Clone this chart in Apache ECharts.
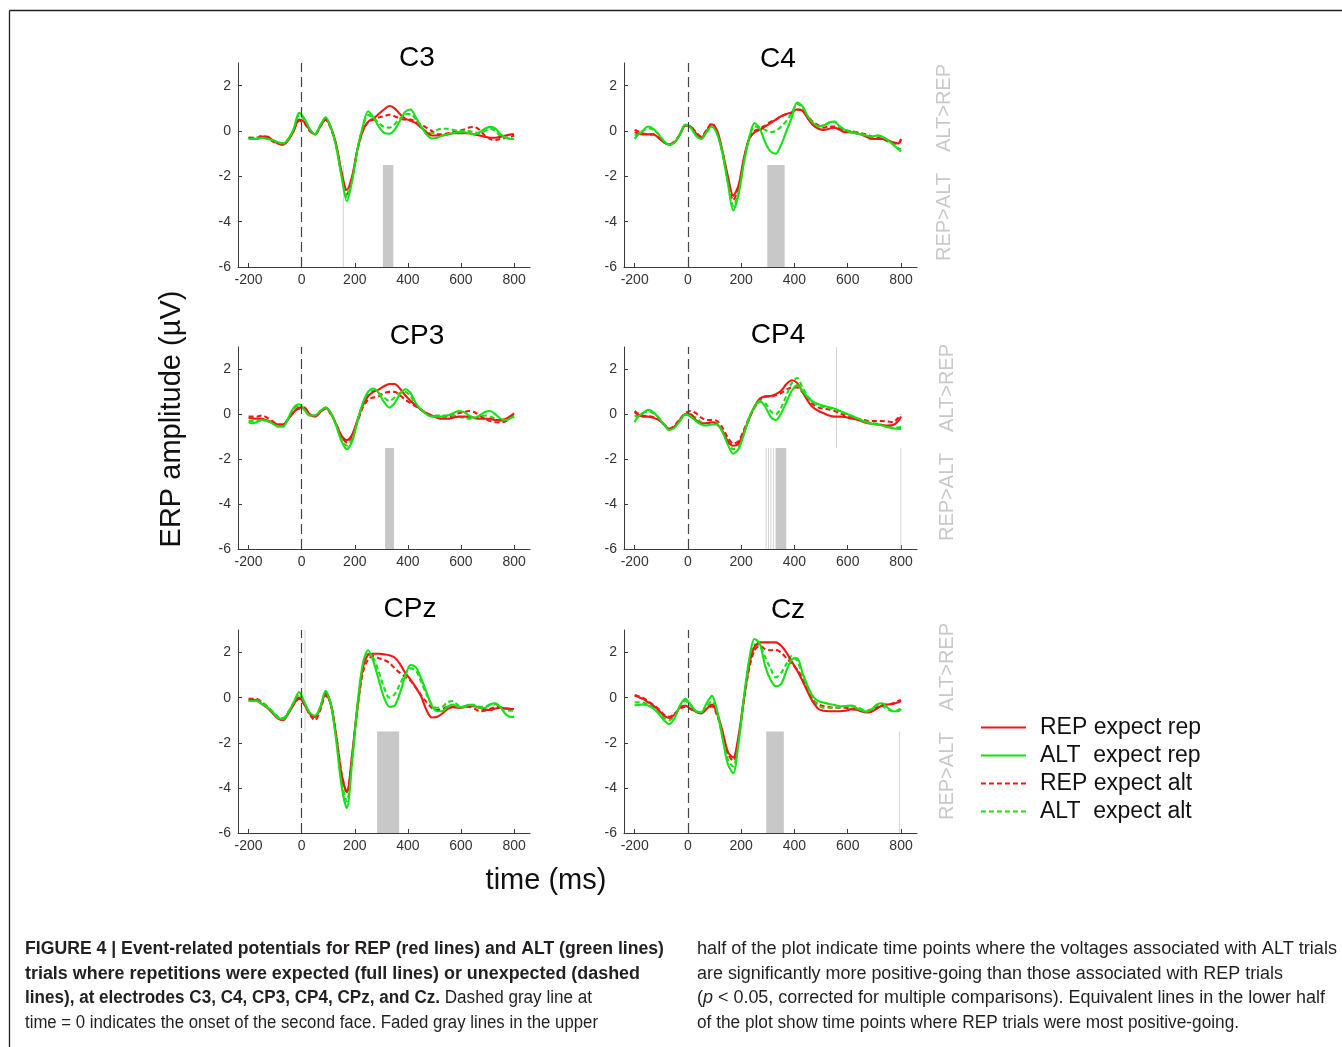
<!DOCTYPE html>
<html>
<head>
<meta charset="utf-8">
<script src="https://cdn.jsdelivr.net/npm/echarts@6/dist/echarts.min.js"></script>
<style>
  html, body { margin: 0; padding: 0; background: #ffffff; }
  #chart { width: 1342px; height: 1047px; }
</style>
</head>
<body>
<div id="chart"></div>
<script>
// Sample times (ms) shared by every ERP curve
const TIMES = [-200,
  -190,-170,-150,-130,-110,-90,-70,-50,-30,-10,
  10,30,50,70,90,110,130,150,170,190,
  210,230,250,270,290,310,330,350,370,390,
  410,430,450,470,490,510,530,550,570,590,
  610,630,650,670,690,710,730,750,770,790,
  800];

// Tick positions
const X_TICKS = [-200, 0, 200, 400, 600, 800];
const Y_TICKS = [-6, -4, -2, 0, 2];

// Electrode C3 (µV)
const C3_REP_EXP_REP = [-0.3,
  -0.32,-0.35,-0.25,-0.25,-0.4,-0.55,-0.6,-0.4,0.0,0.5,
  0.4,0.05,-0.15,0.2,0.5,0.15,-0.6,-1.8,-2.6,-2.0,
  -0.8,0.0,0.4,0.55,0.75,0.95,1.1,1.0,0.75,0.55,
  0.45,0.35,0.15,-0.05,-0.2,-0.2,-0.2,-0.15,-0.1,-0.1,
  -0.1,-0.1,-0.15,-0.2,-0.25,-0.3,-0.3,-0.25,-0.2,-0.15,
  -0.15];
const C3_ALT_EXP_REP = [-0.35,
  -0.35,-0.35,-0.3,-0.35,-0.4,-0.5,-0.55,-0.35,0.1,0.8,
  0.55,0.1,-0.15,0.25,0.6,0.15,-0.7,-2.0,-3.1,-2.2,
  -0.8,0.2,0.87,0.6,0.2,-0.08,-0.12,0.05,0.45,0.85,
  0.95,0.6,0.2,-0.15,-0.33,-0.3,-0.2,-0.15,-0.1,-0.05,
  -0.05,-0.1,-0.15,-0.05,0.1,0.18,0.1,-0.15,-0.3,-0.35,
  -0.35];
const C3_REP_EXP_ALT = [-0.3,
  -0.3,-0.3,-0.2,-0.3,-0.45,-0.55,-0.6,-0.35,0.05,0.45,
  0.35,0.0,-0.15,0.2,0.5,0.1,-0.65,-1.9,-2.8,-2.1,
  -0.85,0.0,0.4,0.5,0.6,0.65,0.72,0.65,0.55,0.5,
  0.5,0.4,0.3,0.15,0.0,-0.15,-0.15,-0.1,-0.05,0.0,
  0.05,0.15,0.18,0.05,-0.2,-0.35,-0.4,-0.35,-0.3,-0.25,
  -0.2];
const C3_ALT_EXP_ALT = [-0.3,
  -0.3,-0.3,-0.28,-0.3,-0.4,-0.5,-0.55,-0.35,0.05,0.7,
  0.5,0.05,-0.15,0.25,0.55,0.15,-0.7,-1.95,-2.9,-2.1,
  -0.8,0.15,0.7,0.6,0.35,0.18,0.15,0.3,0.55,0.75,
  0.75,0.5,0.2,-0.05,-0.1,0.05,0.1,0.1,0.05,0.0,
  0.0,0.0,-0.05,-0.1,0.0,0.1,0.0,-0.25,-0.3,-0.35,
  -0.35];

// Electrode C4 (µV)
const C4_REP_EXP_REP = [-0.05,
  -0.1,-0.15,-0.15,-0.15,-0.3,-0.5,-0.6,-0.5,-0.15,0.25,
  0.2,-0.1,-0.3,0.0,0.3,0.0,-0.9,-2.0,-2.85,-2.4,
  -1.2,-0.35,-0.05,0.05,0.2,0.35,0.5,0.65,0.75,0.82,
  0.95,0.9,0.55,0.25,0.1,0.05,0.1,0.15,0.05,-0.05,
  -0.05,-0.1,-0.15,-0.25,-0.35,-0.35,-0.35,-0.4,-0.5,-0.55,
  -0.4];
const C4_ALT_EXP_REP = [-0.35,
  -0.2,0.0,0.2,0.1,-0.15,-0.45,-0.62,-0.5,-0.15,0.28,
  0.15,-0.2,-0.35,-0.05,0.2,-0.15,-1.0,-2.3,-3.5,-2.8,
  -1.4,-0.3,0.35,0.1,-0.5,-0.9,-1.0,-0.6,0.0,0.6,
  1.25,1.1,0.65,0.35,0.2,0.25,0.38,0.42,0.2,0.05,
  -0.05,-0.1,-0.15,-0.2,-0.25,-0.2,-0.25,-0.4,-0.6,-0.8,
  -0.9];
const C4_REP_EXP_ALT = [0.05,
  0.0,-0.1,-0.15,-0.15,-0.3,-0.5,-0.6,-0.45,-0.15,0.25,
  0.2,-0.05,-0.25,0.05,0.35,-0.05,-0.95,-2.15,-3.05,-2.5,
  -1.25,-0.35,0.0,0.1,0.25,0.4,0.5,0.65,0.75,0.82,
  0.95,0.9,0.65,0.4,0.25,0.15,0.2,0.2,0.1,0.0,
  0.0,-0.05,-0.1,-0.15,-0.25,-0.3,-0.35,-0.45,-0.55,-0.55,
  -0.35];
const C4_ALT_EXP_ALT = [-0.2,
  -0.15,0.0,0.12,0.05,-0.15,-0.45,-0.6,-0.5,-0.15,0.22,
  0.15,-0.15,-0.3,-0.05,0.2,-0.1,-1.0,-2.25,-3.3,-2.7,
  -1.35,-0.3,0.2,0.15,0.05,-0.05,0.0,0.2,0.45,0.8,
  1.2,1.05,0.6,0.3,0.2,0.25,0.35,0.4,0.2,0.05,
  0.0,-0.05,-0.1,-0.2,-0.25,-0.2,-0.25,-0.4,-0.55,-0.75,
  -0.8];

// Electrode CP3 (µV)
const CP3_REP_EXP_REP = [-0.15,
  -0.18,-0.2,-0.2,-0.28,-0.35,-0.45,-0.45,-0.2,0.1,0.3,
  0.3,0.0,-0.1,0.1,0.3,0.05,-0.45,-0.95,-1.15,-0.9,
  -0.25,0.4,0.8,1.0,1.1,1.25,1.35,1.35,1.15,0.85,
  0.6,0.4,0.2,0.05,-0.05,-0.15,-0.2,-0.2,-0.15,-0.1,
  -0.1,-0.1,-0.15,-0.2,-0.2,-0.2,-0.25,-0.25,-0.2,-0.05,
  0.05];
const CP3_ALT_EXP_REP = [-0.35,
  -0.4,-0.35,-0.25,-0.3,-0.4,-0.55,-0.55,-0.15,0.3,0.45,
  0.2,-0.05,-0.05,0.15,0.3,0.05,-0.5,-1.2,-1.55,-1.2,
  -0.3,0.5,1.0,1.15,0.95,0.55,0.3,0.5,0.9,1.12,
  0.95,0.5,0.2,0.0,-0.1,-0.1,-0.1,-0.05,0.05,0.15,
  0.1,-0.05,-0.15,-0.05,0.1,0.15,0.0,-0.2,-0.25,-0.15,
  -0.1];
const CP3_REP_EXP_ALT = [-0.1,
  -0.1,-0.1,-0.05,-0.15,-0.3,-0.45,-0.45,-0.2,0.1,0.25,
  0.25,0.0,-0.1,0.1,0.25,0.0,-0.45,-1.0,-1.25,-1.0,
  -0.35,0.3,0.65,0.75,0.8,0.95,1.0,1.0,0.85,0.65,
  0.5,0.35,0.2,0.05,-0.05,-0.1,-0.1,-0.1,-0.05,0.05,
  0.1,0.15,0.1,-0.05,-0.2,-0.3,-0.35,-0.35,-0.3,-0.1,
  0.0];
const CP3_ALT_EXP_ALT = [-0.3,
  -0.3,-0.3,-0.25,-0.3,-0.4,-0.5,-0.5,-0.15,0.25,0.4,
  0.2,-0.05,-0.05,0.15,0.28,0.05,-0.5,-1.1,-1.4,-1.1,
  -0.3,0.45,0.9,1.05,0.95,0.75,0.6,0.75,0.95,1.0,
  0.8,0.45,0.2,0.05,-0.05,-0.05,-0.05,-0.05,-0.05,-0.1,
  -0.15,-0.2,-0.2,-0.1,-0.05,-0.1,-0.2,-0.3,-0.25,-0.15,
  -0.1];

// Electrode CP4 (µV)
const CP4_REP_EXP_REP = [0.1,
  0.0,-0.1,-0.1,-0.15,-0.25,-0.45,-0.65,-0.55,-0.25,0.0,
  0.0,-0.25,-0.4,-0.4,-0.35,-0.45,-0.75,-1.2,-1.4,-1.3,
  -0.8,-0.2,0.35,0.7,0.8,0.82,0.9,1.05,1.35,1.52,
  1.4,1.0,0.6,0.3,0.15,0.05,-0.05,-0.1,-0.1,-0.12,
  -0.18,-0.22,-0.3,-0.38,-0.42,-0.45,-0.48,-0.5,-0.48,-0.3,
  -0.1];
const CP4_ALT_EXP_REP = [-0.35,
  -0.15,0.05,0.2,0.1,-0.15,-0.45,-0.7,-0.6,-0.3,0.0,
  -0.1,-0.3,-0.45,-0.5,-0.45,-0.45,-0.8,-1.35,-1.75,-1.55,
  -0.9,-0.15,0.35,0.6,0.35,-0.1,-0.25,0.05,0.55,1.05,
  1.3,1.05,0.75,0.55,0.45,0.38,0.32,0.25,0.15,0.05,
  -0.05,-0.15,-0.25,-0.35,-0.42,-0.45,-0.5,-0.58,-0.62,-0.65,
  -0.65];
const CP4_REP_EXP_ALT = [0.15,
  0.05,-0.05,-0.08,-0.12,-0.22,-0.45,-0.65,-0.5,-0.2,0.05,
  0.15,0.05,-0.15,-0.25,-0.25,-0.3,-0.6,-1.05,-1.3,-1.2,
  -0.7,-0.15,0.3,0.65,0.78,0.8,0.85,0.95,1.1,1.2,
  1.2,1.0,0.75,0.45,0.3,0.25,0.22,0.15,0.05,-0.05,
  -0.12,-0.18,-0.22,-0.28,-0.3,-0.3,-0.3,-0.32,-0.35,-0.15,
  0.0];
const CP4_ALT_EXP_ALT = [-0.1,
  -0.05,0.05,0.12,0.05,-0.15,-0.45,-0.68,-0.55,-0.25,0.0,
  -0.05,-0.15,-0.35,-0.4,-0.35,-0.4,-0.75,-1.25,-1.55,-1.4,
  -0.85,-0.15,0.3,0.55,0.5,0.15,0.0,0.3,0.85,1.4,
  1.62,1.2,0.8,0.55,0.4,0.33,0.28,0.22,0.15,0.05,
  -0.05,-0.15,-0.25,-0.32,-0.38,-0.42,-0.48,-0.55,-0.6,-0.58,
  -0.55];

// Electrode CPz (µV)
const CPZ_REP_EXP_REP = [-0.1,
  -0.1,-0.12,-0.28,-0.45,-0.68,-0.92,-1.0,-0.7,-0.3,0.0,
  -0.3,-0.7,-0.85,-0.45,0.2,-0.3,-1.7,-3.4,-4.2,-2.5,
  -0.4,1.3,1.9,1.95,1.95,1.92,1.88,1.78,1.5,1.1,
  0.8,0.45,0.05,-0.55,-0.88,-0.85,-0.7,-0.5,-0.42,-0.45,
  -0.42,-0.38,-0.38,-0.45,-0.52,-0.55,-0.48,-0.45,-0.48,-0.5,
  -0.5];
const CPZ_ALT_EXP_REP = [-0.15,
  -0.15,-0.15,-0.28,-0.42,-0.62,-0.88,-0.95,-0.65,-0.2,0.25,
  -0.2,-0.65,-0.8,-0.4,0.3,-0.3,-1.9,-3.9,-4.9,-2.8,
  -0.3,1.5,2.1,1.6,0.8,0.0,-0.4,-0.35,0.2,0.95,
  1.45,1.35,0.85,0.25,-0.35,-0.6,-0.6,-0.4,-0.3,-0.42,
  -0.42,-0.32,-0.35,-0.45,-0.45,-0.3,-0.25,-0.45,-0.75,-0.85,
  -0.85];
const CPZ_REP_EXP_ALT = [-0.05,
  -0.05,-0.05,-0.2,-0.4,-0.62,-0.88,-0.92,-0.65,-0.3,-0.05,
  -0.3,-0.75,-1.0,-0.55,0.1,-0.3,-1.65,-3.35,-4.2,-2.6,
  -0.5,1.1,1.7,1.85,1.75,1.68,1.55,1.3,1.1,0.92,
  0.75,0.45,0.1,-0.2,-0.45,-0.55,-0.5,-0.4,-0.4,-0.45,
  -0.42,-0.4,-0.48,-0.6,-0.58,-0.5,-0.42,-0.42,-0.48,-0.5,
  -0.5];
const CPZ_ALT_EXP_ALT = [-0.15,
  -0.12,-0.1,-0.22,-0.4,-0.6,-0.85,-0.9,-0.62,-0.2,0.15,
  -0.22,-0.7,-0.85,-0.45,0.2,-0.3,-1.8,-3.7,-4.6,-2.7,
  -0.4,1.3,1.95,1.75,1.15,0.45,0.0,0.15,0.6,1.05,
  1.3,1.2,0.7,0.15,-0.3,-0.45,-0.4,-0.2,-0.15,-0.35,
  -0.38,-0.32,-0.32,-0.4,-0.4,-0.3,-0.3,-0.42,-0.55,-0.58,
  -0.55];

// Electrode Cz (µV)
const CZ_REP_EXP_REP = [0.1,
  0.05,-0.05,-0.2,-0.35,-0.55,-0.8,-0.9,-0.75,-0.45,-0.35,
  -0.5,-0.62,-0.7,-0.5,-0.3,-0.7,-1.5,-2.4,-2.65,-1.7,
  -0.05,1.45,2.25,2.45,2.45,2.45,2.45,2.3,2.0,1.6,
  1.2,0.75,0.25,-0.2,-0.5,-0.58,-0.6,-0.6,-0.6,-0.58,
  -0.52,-0.52,-0.6,-0.65,-0.62,-0.48,-0.35,-0.3,-0.28,-0.2,
  -0.15];
const CZ_ALT_EXP_REP = [-0.35,
  -0.32,-0.3,-0.35,-0.48,-0.7,-1.0,-1.18,-0.9,-0.35,-0.05,
  -0.3,-0.6,-0.65,-0.25,0.08,-0.6,-1.8,-2.95,-3.35,-2.0,
  0.0,1.7,2.6,2.4,1.4,0.8,0.5,0.6,1.2,1.7,
  1.75,1.1,0.5,0.05,-0.15,-0.22,-0.28,-0.32,-0.38,-0.38,
  -0.35,-0.45,-0.55,-0.62,-0.52,-0.3,-0.25,-0.45,-0.6,-0.6,
  -0.5];
const CZ_REP_EXP_ALT = [0.1,
  0.08,0.0,-0.15,-0.32,-0.5,-0.75,-0.85,-0.7,-0.5,-0.4,
  -0.5,-0.62,-0.68,-0.5,-0.38,-0.8,-1.6,-2.5,-2.8,-1.8,
  -0.15,1.3,2.1,2.3,2.15,2.1,2.12,2.0,1.75,1.5,
  1.25,0.85,0.35,-0.1,-0.3,-0.38,-0.42,-0.45,-0.45,-0.45,
  -0.48,-0.52,-0.58,-0.62,-0.55,-0.42,-0.32,-0.3,-0.25,-0.15,
  -0.1];
const CZ_ALT_EXP_ALT = [-0.2,
  -0.2,-0.22,-0.3,-0.42,-0.62,-0.9,-1.0,-0.8,-0.4,-0.15,
  -0.35,-0.6,-0.65,-0.4,-0.15,-0.7,-1.75,-2.75,-3.05,-1.9,
  -0.1,1.55,2.35,2.3,1.8,1.3,0.9,1.1,1.5,1.85,
  1.65,1.0,0.4,-0.1,-0.35,-0.45,-0.45,-0.45,-0.42,-0.38,
  -0.35,-0.4,-0.5,-0.58,-0.5,-0.35,-0.38,-0.52,-0.6,-0.55,
  -0.45];

// Significant time windows [start, end] in ms
// upper half: ALT > REP, lower half: REP > ALT
const SIG_UP_C3 = [];
const SIG_LOW_C3 = [[155, 158], [306, 345]];
const SIG_UP_C4 = [];
const SIG_LOW_C4 = [[298, 363]];
const SIG_UP_CP3 = [];
const SIG_LOW_CP3 = [[314, 348]];
const SIG_UP_CP4 = [[556, 559]];
const SIG_LOW_CP4 = [[292, 295], [301, 304], [310, 313], [319, 322], [329, 369], [798, 801]];
const SIG_UP_CPZ = [[11, 14]];
const SIG_LOW_CPZ = [[284, 367]];
const SIG_UP_CZ = [];
const SIG_LOW_CZ = [[294, 360], [792, 795]];

const CONDITION_NAMES = ['REP expect rep', 'ALT  expect rep', 'REP expect alt', 'ALT  expect alt'];
const ELECTRODES = ['C3', 'C4', 'CP3', 'CP4', 'CPz', 'Cz'];

// ---------------------------------------------------------------------------
const FONT = "'Liberation Sans', Arial, sans-serif";
const CAPTION_FONT = "'Liberation Sans', Arial, sans-serif";
const RED = '#f01717';
const GREEN = '#17e017';
const Y_MIN = -6, Y_MAX = 3, Y_MID = -1.5;

const CONDITION_STYLES = [
  { color: RED, type: 'solid' },
  { color: GREEN, type: 'solid' },
  { color: RED, type: [5, 3] },
  { color: GREEN, type: [5, 3] }
];

const PANEL_VALUES = {
  C3: [C3_REP_EXP_REP, C3_ALT_EXP_REP, C3_REP_EXP_ALT, C3_ALT_EXP_ALT],
  C4: [C4_REP_EXP_REP, C4_ALT_EXP_REP, C4_REP_EXP_ALT, C4_ALT_EXP_ALT],
  CP3: [CP3_REP_EXP_REP, CP3_ALT_EXP_REP, CP3_REP_EXP_ALT, CP3_ALT_EXP_ALT],
  CP4: [CP4_REP_EXP_REP, CP4_ALT_EXP_REP, CP4_REP_EXP_ALT, CP4_ALT_EXP_ALT],
  CPz: [CPZ_REP_EXP_REP, CPZ_ALT_EXP_REP, CPZ_REP_EXP_ALT, CPZ_ALT_EXP_ALT],
  Cz: [CZ_REP_EXP_REP, CZ_ALT_EXP_REP, CZ_REP_EXP_ALT, CZ_ALT_EXP_ALT]
};
const PANEL_SIG = {
  C3: [SIG_UP_C3, SIG_LOW_C3],
  C4: [SIG_UP_C4, SIG_LOW_C4],
  CP3: [SIG_UP_CP3, SIG_LOW_CP3],
  CP4: [SIG_UP_CP4, SIG_LOW_CP4],
  CPz: [SIG_UP_CPZ, SIG_LOW_CPZ],
  Cz: [SIG_UP_CZ, SIG_LOW_CZ]
};

// Plot boxes and title anchors (pixels)
const PANEL_LAYOUT = {
  C3:  { grid: { left: 238, top: 63,  width: 292, height: 204 }, title: [417, 58] },
  C4:  { grid: { left: 624, top: 63,  width: 293, height: 204 }, title: [778, 59] },
  CP3: { grid: { left: 238, top: 347, width: 292, height: 202 }, title: [417, 336] },
  CP4: { grid: { left: 624, top: 347, width: 293, height: 202 }, title: [778, 335] },
  CPz: { grid: { left: 238, top: 630, width: 292, height: 203 }, title: [410, 609] },
  Cz:  { grid: { left: 624, top: 630, width: 293, height: 203 }, title: [788, 610] }
};

const grids = [], xAxes = [], yAxes = [], series = [];
const graphics = [];

ELECTRODES.forEach((el, i) => {
  const lay = PANEL_LAYOUT[el];
  grids.push(Object.assign({ containLabel: false }, lay.grid));
  const axisLine = { show: true, onZero: false, lineStyle: { color: '#3a3a3a', width: 1 } };
  xAxes.push({
    type: 'value', gridIndex: i, min: -240, max: 860,
    axisLine: axisLine,
    axisTick: { show: true, inside: true, length: 4, customValues: X_TICKS, lineStyle: { color: '#3a3a3a' } },
    axisLabel: { customValues: X_TICKS, color: '#333', fontSize: 14, fontFamily: FONT, margin: 6 },
    splitLine: { show: false }
  });
  yAxes.push({
    type: 'value', gridIndex: i, min: Y_MIN, max: Y_MAX,
    axisLine: axisLine,
    axisTick: { show: true, inside: true, length: 4, customValues: Y_TICKS, lineStyle: { color: '#3a3a3a' } },
    axisLabel: { customValues: Y_TICKS, color: '#333', fontSize: 14, fontFamily: FONT, margin: 7 },
    splitLine: { show: false }
  });

  // significance shading + stimulus onset marker
  const [up, low] = PANEL_SIG[el];
  const areas = []
    .concat(low.map(([a, b]) => [{ xAxis: a, yAxis: Y_MIN }, { xAxis: b, yAxis: Y_MID }]))
    .concat(up.map(([a, b]) => [{ xAxis: a, yAxis: Y_MID }, { xAxis: b, yAxis: Y_MAX }]));
  series.push({
    type: 'line', name: 'sig-' + el, xAxisIndex: i, yAxisIndex: i, data: [], silent: true, z: 1,
    markArea: { silent: true, itemStyle: { color: '#c8c8c8', opacity: 1 }, label: { show: false }, data: areas },
    markLine: {
      silent: true, symbol: ['none', 'none'], label: { show: false },
      lineStyle: { color: '#444', type: [10, 5], width: 1.2 },
      data: [{ xAxis: 0 }]
    }
  });

  // ERP curves: dashed first, solid on top
  [2, 3, 0, 1].forEach(k => {
    const st = CONDITION_STYLES[k];
    series.push({
      type: 'line', name: CONDITION_NAMES[k], xAxisIndex: i, yAxisIndex: i,
      data: TIMES.map((t, j) => [t, PANEL_VALUES[el][k][j]]),
      symbol: 'none', smooth: 0.3, silent: true, z: 2,
      lineStyle: { color: st.color, width: 2.1, type: st.type },
      itemStyle: { color: st.color }
    });
  });

  graphics.push({
    type: 'text', x: lay.title[0], y: lay.title[1], silent: true,
    style: { text: el, fontSize: 28, fontFamily: FONT, fill: '#000', align: 'center', verticalAlign: 'middle' }
  });
});

// Right-hand column labels for the two halves of each plot
const SIDE_ROWS = [[944, 108, 217], [947, 388, 497], [947, 667, 776]];
SIDE_ROWS.forEach(([x, yUp, yLow]) => {
  [['ALT>REP', yUp], ['REP>ALT', yLow]].forEach(([txt, y]) => {
    graphics.push({
      type: 'text', x: x, y: y, rotation: Math.PI / 2, silent: true,
      style: { text: txt, fontSize: 20, fontFamily: FONT, fill: '#c8c8c8', align: 'center', verticalAlign: 'middle' }
    });
  });
});

// Shared axis titles
graphics.push({
  type: 'text', x: 172, y: 419, rotation: Math.PI / 2, silent: true,
  style: { text: 'ERP amplitude (µV)', fontSize: 29, fontFamily: FONT, fill: '#111', align: 'center', verticalAlign: 'middle' }
});
graphics.push({
  type: 'text', x: 546, y: 881, silent: true,
  style: { text: 'time (ms)', fontSize: 29, fontFamily: FONT, fill: '#111', align: 'center', verticalAlign: 'middle' }
});

// Figure frame
graphics.push({ type: 'line', silent: true, shape: { x1: 9.5, y1: 10.5, x2: 1342, y2: 10.5 }, style: { stroke: '#231f20', lineWidth: 1.3 } });
graphics.push({ type: 'line', silent: true, shape: { x1: 9.5, y1: 10.5, x2: 9.5, y2: 1047 }, style: { stroke: '#231f20', lineWidth: 1.3 } });

// Caption, two columns; each line is fitted to its column width
const CAP_SIZE = 18;
const measureCtx = document.createElement('canvas').getContext('2d');
function segWidth(seg) {
  measureCtx.font = (seg.s === 'i' ? 'italic ' : 'normal ') + (seg.s === 'b' ? 'bold ' : 'normal ') + CAP_SIZE + 'px ' + CAPTION_FONT;
  return measureCtx.measureText(seg.t).width;
}
const CAPTION_LINES = [
  { x: 25, y: 949, w: 639, segs: [{ s: 'b', t: 'FIGURE 4 | Event-related potentials for REP (red lines) and ALT (green lines)' }] },
  { x: 25, y: 974, w: 615, segs: [{ s: 'b', t: 'trials where repetitions were expected (full lines) or unexpected (dashed' }] },
  { x: 25, y: 998, w: 567, segs: [{ s: 'b', t: 'lines), at electrodes C3, C4, CP3, CP4, CPz, and Cz.' }, { s: 'n', t: ' Dashed gray line at' }] },
  { x: 25, y: 1023, w: 573, segs: [{ s: 'n', t: 'time = 0 indicates the onset of the second face. Faded gray lines in the upper' }] },
  { x: 697, y: 949, w: 640, segs: [{ s: 'n', t: 'half of the plot indicate time points where the voltages associated with ALT trials' }] },
  { x: 697, y: 974, w: 586, segs: [{ s: 'n', t: 'are significantly more positive-going than those associated with REP trials' }] },
  { x: 697, y: 998, w: 628, segs: [{ s: 'n', t: '(' }, { s: 'i', t: 'p' }, { s: 'n', t: ' < 0.05, corrected for multiple comparisons). Equivalent lines in the lower half' }] },
  { x: 697, y: 1023, w: 542, segs: [{ s: 'n', t: 'of the plot show time points where REP trials were most positive-going.' }] }
];
const capRich = {
  b: { fontSize: CAP_SIZE, fontFamily: CAPTION_FONT, fontWeight: 'bold', fill: '#231f20' },
  n: { fontSize: CAP_SIZE, fontFamily: CAPTION_FONT, fontWeight: 'normal', fill: '#231f20' },
  i: { fontSize: CAP_SIZE, fontFamily: CAPTION_FONT, fontWeight: 'normal', fontStyle: 'italic', fill: '#231f20' }
};
CAPTION_LINES.forEach(line => {
  const natural = line.segs.reduce((sum, sg) => sum + segWidth(sg), 0);
  const text = line.segs.map(sg => '{' + sg.s + '|' + sg.t + '}').join('');
  graphics.push({
    type: 'text', x: line.x, y: line.y, scaleX: line.w / natural, silent: true,
    style: { text: text, rich: capRich, fontSize: CAP_SIZE, fontFamily: CAPTION_FONT, fill: '#231f20', align: 'left', verticalAlign: 'middle' }
  });
});

const chart = echarts.init(document.getElementById('chart'), null, { renderer: 'canvas' });
chart.setOption({
  animation: false,
  backgroundColor: '#ffffff',
  grid: grids,
  xAxis: xAxes,
  yAxis: yAxes,
  legend: {
    orient: 'vertical', left: 980, top: 716, padding: 0,
    itemWidth: 45, itemHeight: 14, itemGap: 5, selectedMode: false,
    data: CONDITION_NAMES,
    itemStyle: { opacity: 0 },
    textStyle: { fontSize: 23, lineHeight: 23, fontFamily: FONT, color: '#111', padding: [0, 0, 0, 9] }
  },
  series: series,
  graphic: graphics
});
</script>
</body>
</html>
